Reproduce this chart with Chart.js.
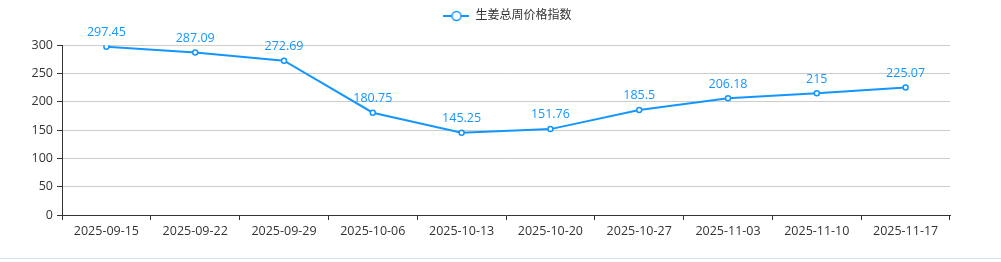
<!DOCTYPE html>
<html>
<head>
<meta charset="utf-8">
<script src="https://cdn.jsdelivr.net/npm/chart.js@4.4.1/dist/chart.umd.min.js"></script>
<style>
html,body{margin:0;padding:0;background:#fff;}
#wrap{position:relative;width:1001px;height:258px;border-bottom:1px solid #d5e3ee;}
canvas{display:block;}
</style>
</head>
<body>
<div id="wrap"><canvas id="c" width="1001" height="258"></canvas></div>
<script>
const categories = ['2025-09-15','2025-09-22','2025-09-29','2025-10-06','2025-10-13','2025-10-20','2025-10-27','2025-11-03','2025-11-10','2025-11-17'];
const seriesName = '生姜总周价格指数';
const values = [297.45, 287.09, 272.69, 180.75, 145.25, 151.76, 185.5, 206.18, 215, 225.07];
const yTicks = [0, 50, 100, 150, 200, 250, 300];

const BLUE = '#1496ff';
const FONT = '"Open Sans", "Noto Sans CJK SC", sans-serif';

// legend icon
const icon = document.createElement('canvas');
icon.width = 26; icon.height = 12;
(function(){
  const g = icon.getContext('2d');
  g.strokeStyle = BLUE; g.lineWidth = 2;
  g.beginPath(); g.moveTo(0,6); g.lineTo(26,6); g.stroke();
  g.lineWidth = 1.5;
  g.beginPath(); g.arc(13,6,4.5,0,Math.PI*2); g.fillStyle='#fff'; g.fill(); g.stroke();
})();

const labelPlugin = {
  id: 'valueLabels',
  afterDatasetsDraw(chart) {
    const ctx = chart.ctx;
    const meta = chart.getDatasetMeta(0);
    ctx.save();
    ctx.font = '12.5px ' + FONT;
    ctx.fillStyle = BLUE;
    ctx.textAlign = 'center';
    ctx.textBaseline = 'bottom';
    meta.data.forEach((pt, i) => {
      ctx.fillText(String(chart.data.datasets[0].data[i]), pt.x, pt.y - 8);
    });
    ctx.restore();
  }
};

new Chart(document.getElementById('c'), {
  type: 'line',
  data: {
    labels: categories,
    datasets: [{
      label: seriesName,
      data: values,
      yAxisID: 'y',
      borderColor: BLUE,
      backgroundColor: '#fff',
      borderWidth: 2,
      pointRadius: 2.5,
      pointBorderWidth: 1.5,
      pointBackgroundColor: '#fff',
      pointBorderColor: BLUE,
      tension: 0,
      fill: false
    }]
  },
  options: {
    responsive: false,
    animation: false,
    layout: { padding: { left: 14, right: 0, top: 1, bottom: 0 } },
    plugins: {
      tooltip: { enabled: false },
      title: { display: true, text: '', weight: 500, position: 'top', font: { size: 11 }, padding: { top: 0, bottom: 0 } },
      legend: {
        display: true,
        position: 'top',
        labels: {
          font: { size: 12, family: FONT },
          color: '#333',
          padding: 9,
          usePointStyle: true,
          pointStyleWidth: 26,
          generateLabels(chart) {
            return [{ text: seriesName, pointStyle: icon, datasetIndex: 0, fontColor: '#333', lineWidth: 0, strokeStyle: 'transparent', fillStyle: 'transparent' }];
          }
        }
      }
    },
    scales: {
      x: {
        offset: true,
        grid: { offset: true, drawOnChartArea: false, drawTicks: true, tickLength: 5, tickColor: '#333' },
        border: { display: true, color: '#333', width: 1 },
        ticks: { color: '#333', font: { size: 12.5, family: FONT }, maxRotation: 0, padding: 4 },
        afterFit(s) { s.height = 43; }
      },
      y: {
        min: 0, max: 300,
        afterBuildTicks(s) { s.ticks = yTicks.map(v => ({ value: v })); },
        grid: { color: '#cccccc', tickLength: 5, tickColor: '#333' },
        border: { display: true, color: '#333', width: 1 },
        ticks: { color: '#333', font: { size: 12.5, family: FONT }, padding: 4 },
        afterFit(s) { s.width = 48; }
      },
      spacer: {
        type: 'linear',
        position: 'right',
        display: true,
        grid: { display: false, drawTicks: false },
        border: { display: false },
        ticks: { display: false },
        afterFit(s) { s.width = 51; }
      }
    }
  },
  plugins: [labelPlugin]
});
</script>
</body>
</html>
